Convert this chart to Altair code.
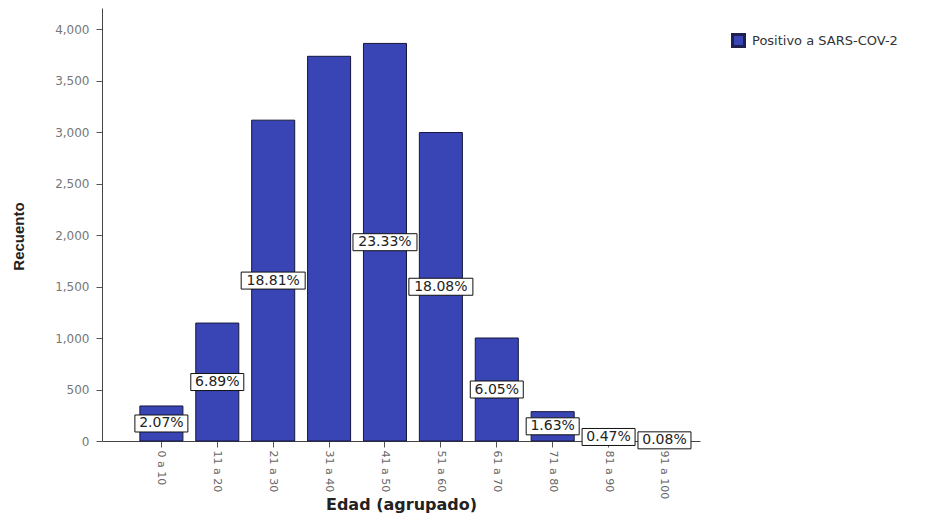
import altair as alt
import pandas as pd

categorias = ["0 a 10", "11 a 20", "21 a 30", "31 a 40", "41 a 50",
              "51 a 60", "61 a 70", "71 a 80", "81 a 90", "91 a 100"]
recuento = [340, 1145, 3115, 3735, 3860, 2995, 1000, 285, 78, 13]
porcentajes = ["2.07%", "6.89%", "18.81%", "", "23.33%",
               "18.08%", "6.05%", "1.63%", "0.47%", "0.08%"]
serie = "Positivo a SARS-COV-2"
y_ticks = [0, 500, 1000, 1500, 2000, 2500, 3000, 3500, 4000]

df = pd.DataFrame({"edad": categorias, "recuento": recuento,
                   "pct": porcentajes, "serie": serie})

BAR = "#3a45b5"
EDGE = "#15173d"

xscale = alt.Scale(paddingInner=0.23, paddingOuter=0.464, align=0.73)
yscale = alt.Scale(domain=[0, 4204], nice=False, zero=True)

x_axis = alt.Axis(
    title="Edad (agrupado)", labelAngle=90, labelFont="DejaVu Sans",
    labelFontSize=11, labelColor="#666", labelPadding=3, tickSize=6,
    tickColor="#555", domainColor="#444",
    titleFont="DejaVu Sans", titleFontSize=16, titleFontWeight="bold",
    titleColor="#222", titleX=299, titleY=63, titleBaseline="middle",
    titleAlign="center")

y_axis = alt.Axis(
    title="Recuento", format=",.0f", values=y_ticks, grid=False, tickSize=6,
    tickColor="#555", domainColor="#444", labelFont="DejaVu Sans",
    labelFontSize=12, labelColor="#777", labelPadding=7,
    titleFont="Liberation Sans", titleFontSize=15, titleFontWeight="bold",
    titleColor="#222", titleAngle=270, titleX=-84, titleY=228,
    titleAlign="center", titleBaseline="middle")

X = alt.X("edad:N", sort=categorias, scale=xscale, axis=x_axis)

base = alt.Chart(df)

bars = base.mark_bar(stroke=EDGE, strokeWidth=1).encode(
    x=X,
    y=alt.Y("recuento:Q", scale=yscale, axis=y_axis),
    color=alt.Color("serie:N", scale=alt.Scale(range=[BAR]),
                    legend=alt.Legend(title=None, orient="none",
                                      legendX=629, legendY=25,
                                      symbolType="square", symbolSize=144,
                                      symbolStrokeColor="#1e2050",
                                      symbolStrokeWidth=3,
                                      labelFont="DejaVu Sans",
                                      labelFontSize=13, labelColor="#333",
                                      labelOffset=6)),
)

lab = base.transform_filter("datum.pct != ''").transform_calculate(
    mid="datum.recuento / 2", n="length(datum.pct)")

Ymid = alt.Y("mid:Q", scale=yscale, axis=y_axis)

def box(w, h, cond):
    r = h / w
    path = f"M-1,-{r:.4f}L1,-{r:.4f}L1,{r:.4f}L-1,{r:.4f}Z"
    return lab.transform_filter(cond).mark_point(
        shape=path, size=w * w, filled=True, fill="white", stroke="#111",
        strokeWidth=1, opacity=1).encode(x=X, y=Ymid)

box_short = box(53, 17, "datum.n <= 5")
box_long = box(64, 17, "datum.n > 5")

texts = lab.mark_text(font="DejaVu Sans", fontSize=14, color="#222",
                      baseline="middle", align="center").encode(
    x=X, y=Ymid, text="pct:N")

chart = alt.layer(bars, box_short, box_long, texts).properties(
    width=598, height=433,
    padding={"left": 94, "top": 0, "right": 224, "bottom": 75},
    autosize="none", background="white",
).configure_view(stroke=None)

chart.save("out.html", embed_options={"renderer": "svg", "actions": False})
